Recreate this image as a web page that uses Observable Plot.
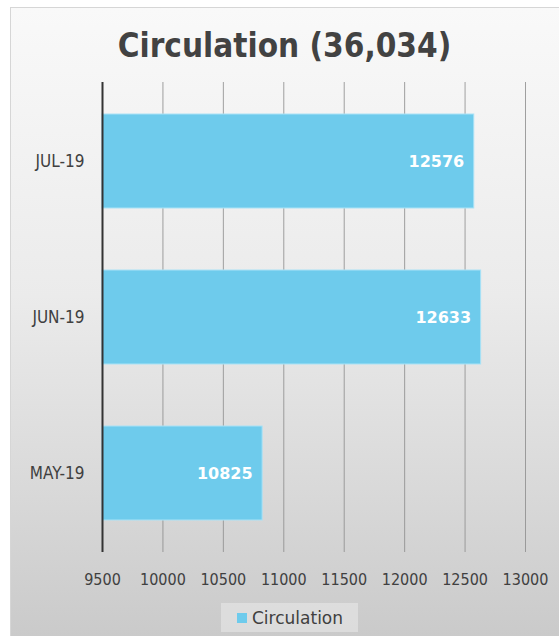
<!DOCTYPE html>
<html>
<head>
<meta charset="utf-8">
<script src="https://cdn.jsdelivr.net/npm/d3@7"></script>
<script src="https://cdn.jsdelivr.net/npm/@observablehq/plot@0.6"></script>
<style>
  html, body { margin: 0; padding: 0; background: #ffffff; }
  #wrap { position: relative; width: 559px; height: 636px; overflow: hidden; background: #ffffff; }
  #frame { position: absolute; left: 10px; top: 7px; width: 560px; height: 640px;
    border-left: 1px solid #d6d6d6; border-top: 1px solid #d6d6d6;
    background: linear-gradient(to bottom, #f9f9f9 0%, #ebebeb 45%, #d9d9d9 75%, #c9c9c9 100%); }
  #title { position: absolute; left: 10px; width: 549px; top: 29px; text-align: center;
    font-family: "DejaVu Sans Condensed", "DejaVu Sans", sans-serif; font-weight: bold;
    font-size: 33px; line-height: 33px; color: #424242; }
  #chart { position: absolute; left: 0; top: 0; }
  #legend { position: absolute; left: 221px; top: 603px; width: 137px; height: 29px;
    background: rgba(235,235,235,0.55); box-sizing: border-box;
    font-family: "DejaVu Sans", sans-serif; font-size: 17px; color: #404040;
    display: flex; align-items: center; padding-left: 16px; }
  #legend .sw { width: 10px; height: 10px; background: #6ecbec; margin-right: 5px; }
</style>
</head>
<body>
<div id="wrap">
  <div id="frame"></div>
  <div id="title">Circulation (36,034)</div>
  <div id="chart"></div>
  <div id="legend"><span class="sw"></span><span>Circulation</span></div>
</div>
<script>
const months = ["MAY-19", "JUN-19", "JUL-19"];
const circulation = [10825, 12633, 12576];
const xTicks = [9500, 10000, 10500, 11000, 11500, 12000, 12500, 13000];
const seriesName = "Circulation";

const data = months.map((m, i) => ({month: m, value: circulation[i]}));
const baseline = 9500;

const plot = Plot.plot({
  width: 559,
  height: 600,
  marginTop: 82,
  marginBottom: 48,
  marginLeft: 102,
  marginRight: 34,
  style: {background: "transparent", fontFamily: "'DejaVu Sans Condensed', 'DejaVu Sans', sans-serif", color: "#404040", overflow: "visible"},
  x: {domain: [9500, 13000], label: null},
  y: {domain: months.slice().reverse(), paddingInner: 0.4, paddingOuter: 0.2, label: null},
  marks: [
    Plot.ruleX(xTicks.filter(t => t > baseline), {stroke: "#8f8f8f", strokeWidth: 1, strokeOpacity: 0.85}),
    Plot.barX(data, {x1: baseline, x2: "value", y: "month", fill: "#6ecbec", stroke: "#a9e2f6", strokeWidth: 1}),
    Plot.ruleX([baseline], {stroke: "#333333", strokeWidth: 2}),
    Plot.text(data, {x: "value", y: "month", text: d => String(d.value), textAnchor: "end", dx: -10,
      fill: "#ffffff", fontWeight: "bold", fontSize: 16, fontFamily: "'DejaVu Sans', sans-serif"}),
    Plot.axisX({ticks: xTicks, tickSize: 0, tickPadding: 21, tickFormat: d => String(d), fontSize: 16, fill: "#404040", label: null}),
    Plot.axisY({tickSize: 0, tickPadding: 18, fontSize: 17, fill: "#404040", label: null})
  ]
});
document.getElementById("chart").appendChild(plot);
</script>
</body>
</html>
